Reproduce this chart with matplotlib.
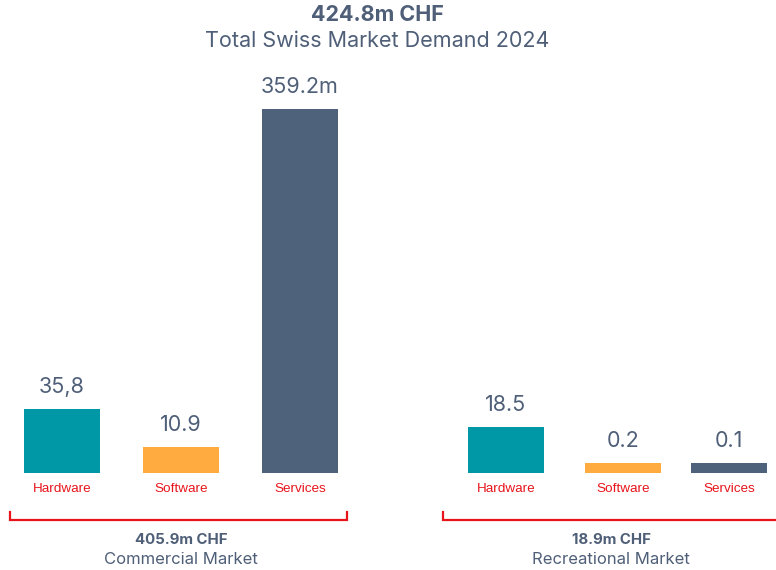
"""Swiss market demand 2024: commercial vs recreational, split by segment."""

import matplotlib

matplotlib.use("Agg")
import matplotlib.pyplot as plt


# Data
SEGMENTS = ["Hardware", "Software", "Services"]
COMMERCIAL_LABELS = ["35,8", "10.9", "359.2m"]
RECREATIONAL_LABELS = ["18.5", "0.2", "0.1"]
# drawn bar heights as they appear in the chart (m CHF scale of the tallest bar)
COMMERCIAL_HEIGHTS = [63.2, 25.7, 359.2]
RECREATIONAL_HEIGHTS = [45.4, 9.9, 9.9]
TOTAL = "424.8m CHF"
TITLE = "Total Swiss Market Demand 2024"
GROUPS = ["Commercial Market", "Recreational Market"]
GROUP_TOTALS = ["405.9m CHF", "18.9m CHF"]

SEG_COLORS = ["#0097a7", "#ffab40", "#4f627b"]
TEXT = "#4f5f78"
RED = "#e8141b"
MAIN_FONT = ["Inter", "DejaVu Sans"]
LABEL_FONT = ["Liberation Sans", "DejaVu Sans"]

W, H = 776, 570
BASE = 473  # pixel row of the bar baseline
K = 359.2 / 364  # data units per pixel


def py(p):
    """Pixel row (from top) -> data y."""
    return (BASE - p) * K


def draw_group(ax, centers, heights, labels, bracket, total, name, name_x):
    for x, h, lab, seg, c in zip(centers, heights, labels, SEGMENTS, SEG_COLORS):
        ax.bar(x, h, width=76, color=c, bottom=0)
        ax.text(x, h + 22 * K, lab, ha="center", va="center", fontsize=15.5,
                color=TEXT, family=MAIN_FONT)
        ax.text(x, py(489.5), seg, ha="center", va="center", fontsize=9.7,
                color=RED, family=LABEL_FONT)

    x0, x1 = bracket
    ax.plot([x0, x0, x1, x1], [py(512), py(520), py(520), py(512)],
            color=RED, linewidth=1.6, solid_joinstyle="miter", clip_on=False)
    ax.text(name_x, py(540), total, ha="center", va="center", fontsize=10.8,
            fontweight="bold", color=TEXT, family=MAIN_FONT)
    ax.text(name_x, py(559), name, ha="center", va="center", fontsize=12,
            color=TEXT, family=MAIN_FONT)


def main():
    fig = plt.figure(figsize=(W / 100, H / 100), dpi=100)
    ax = fig.add_axes([0, 0, 1, 1])
    ax.set_xlim(0, W)
    ax.set_ylim(py(H), py(0))
    ax.set_axis_off()

    draw_group(ax, [62, 181, 300], COMMERCIAL_HEIGHTS, COMMERCIAL_LABELS,
               (10, 347), GROUP_TOTALS[0], GROUPS[0], 181)
    draw_group(ax, [506, 623, 729], RECREATIONAL_HEIGHTS, RECREATIONAL_LABELS,
               (443, 790), GROUP_TOTALS[1], GROUPS[1], 611)

    ax.text(377, py(15), TOTAL, ha="center", va="center", fontsize=15.5,
            fontweight="bold", color=TEXT, family=MAIN_FONT)
    ax.text(377, py(41), TITLE, ha="center", va="center", fontsize=15.5,
            color=TEXT, family=MAIN_FONT)

    fig.savefig("out.png", dpi=100, facecolor="white")
    plt.close(fig)


if __name__ == "__main__":
    main()
